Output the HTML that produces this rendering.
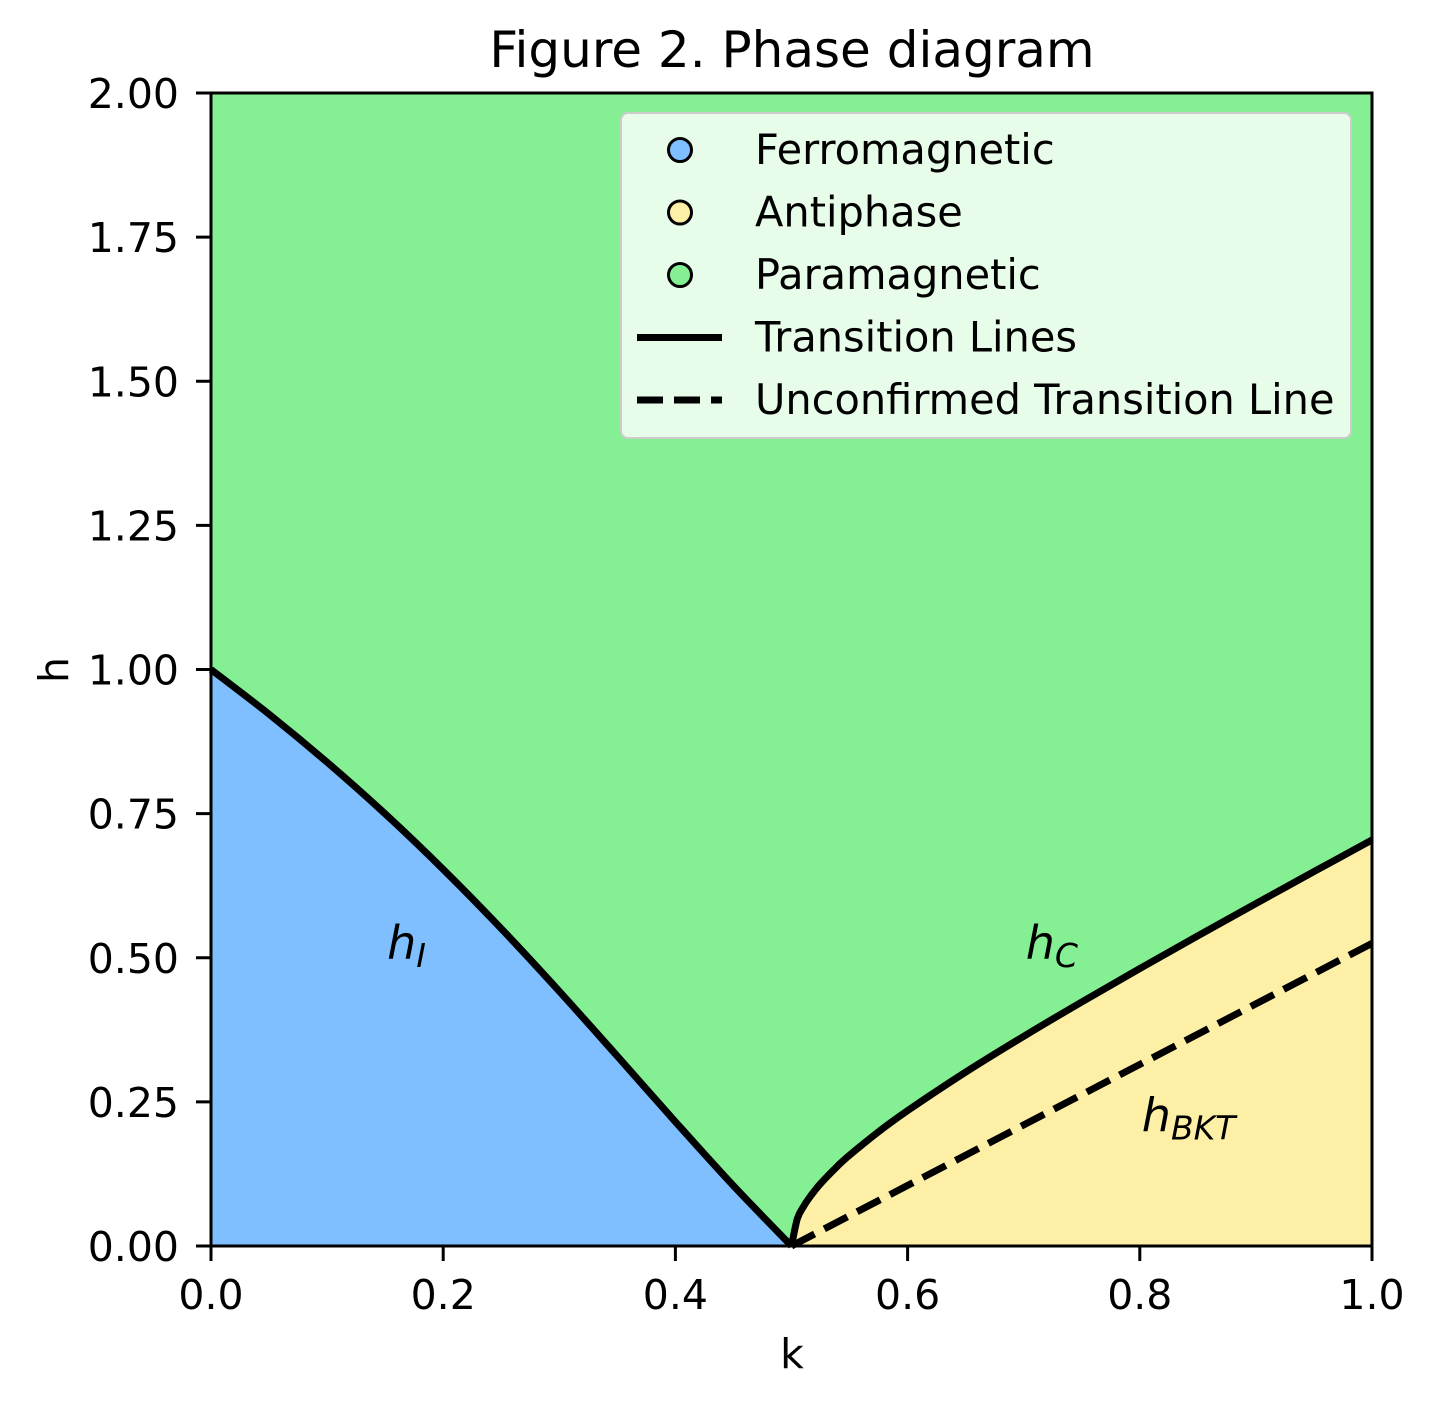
<!DOCTYPE html>
<html><head><meta charset="utf-8"><style>
body{margin:0;background:#fff;}
svg{display:block;font-family:"DejaVu Sans","Liberation Sans",sans-serif;}
</style></head><body>
<svg id="chart" width="1436" height="1407" viewBox="0 0 1436 1407">
<g id="plot"></g>
</svg>
<script>
const kHI=[0,0.05,0.1,0.15,0.2,0.25,0.3,0.35,0.4,0.45,0.5];
const hHI=[1,0.9225,0.8391,0.7496,0.6533,0.5505,0.4418,0.3292,0.2155,0.1045,0];
const kHC=[0.5,0.505,0.51,0.515,0.525,0.54,0.55,0.575,0.6,0.65,0.7,0.75,0.8,0.85,0.9,0.95,1.0];
const hHC=[0,0.0473,0.0672,0.0828,0.1082,0.1393,0.1575,0.1982,0.2348,0.3016,0.3637,0.4233,0.4812,0.5380,0.5940,0.6494,0.7043];
const kBKT=[0.5,1.0];
const hBKT=[0,0.525];
const xTicks=[0,0.2,0.4,0.6,0.8,1.0];
const xTickLabels=["0.0","0.2","0.4","0.6","0.8","1.0"];
const yTicks=[0,0.25,0.5,0.75,1.0,1.25,1.5,1.75,2.0];
const yTickLabels=["0.00","0.25","0.50","0.75","1.00","1.25","1.50","1.75","2.00"];

const X0=211,X1=1372,Y0=1246,Y1=93;
const sx=k=>X0+(X1-X0)*k;
const sy=h=>Y0-(Y0-Y1)*h/2;
const NS="http://www.w3.org/2000/svg";
const g=document.getElementById('plot');
function mk(tag,attrs,parent){const e=document.createElementNS(NS,tag);for(const a in attrs)e.setAttribute(a,attrs[a]);(parent||g).appendChild(e);return e;}
function smooth(ks,hs){
  const P=ks.map((k,i)=>[sx(k),sy(hs[i])]);
  let d='M'+P[0][0]+','+P[0][1];
  for(let i=0;i<P.length-1;i++){
    const p0=P[Math.max(i-1,0)],p1=P[i],p2=P[i+1],p3=P[Math.min(i+2,P.length-1)];
    const c1=[p1[0]+(p2[0]-p0[0])/6,p1[1]+(p2[1]-p0[1])/6];
    const c2=[p2[0]-(p3[0]-p1[0])/6,p2[1]-(p3[1]-p1[1])/6];
    d+=' C'+c1[0]+','+c1[1]+' '+c2[0]+','+c2[1]+' '+p2[0]+','+p2[1];
  }
  return d;
}

let e;
e=mk('rect',{x:X0,y:Y1,width:X1-X0,height:Y0-Y1,fill:'#85f093'});


e=mk('path',{d:smooth(kHI,hHI)+' L'+sx(0)+','+sy(0)+' Z',fill:'#80bfff'});


e=mk('path',{d:smooth(kHC,hHC)+' L'+sx(1)+','+sy(0)+' Z',fill:'#fdf0a6'});


e=mk('path',{d:smooth(kHI,hHI),fill:'none',stroke:'#000','stroke-width':7});


e=mk('path',{d:smooth(kHC,hHC),fill:'none',stroke:'#000','stroke-width':7});


e=mk('line',{x1:sx(kBKT[0]),y1:sy(hBKT[0]),x2:sx(kBKT[1]),y2:sy(hBKT[1]),stroke:'#000','stroke-width':7,'stroke-dasharray':'26,11'});


e=mk('rect',{x:X0,y:Y1,width:X1-X0,height:Y0-Y1,fill:'none',stroke:'#000','stroke-width':3});



xTicks.forEach((v,i)=>{
  mk('line',{x1:sx(v),x2:sx(v),y1:Y0,y2:Y0+15,stroke:'#000','stroke-width':3});
  const t=mk('text',{x:sx(v),y:Y0+63,'font-size':41,'text-anchor':'middle'});t.textContent=xTickLabels[i];
  
  
});
yTicks.forEach((v,i)=>{
  mk('line',{x1:X0-15,x2:X0,y1:sy(v),y2:sy(v),stroke:'#000','stroke-width':3});
  const t=mk('text',{x:X0-32,y:sy(v)+15,'font-size':41,'text-anchor':'end'});t.textContent=yTickLabels[i];
  
  
});
function lab(x,y,txt,name){const t=mk('text',{x:x,y:y,'font-size':41,'text-anchor':'middle'});t.textContent=txt;return t;}
lab(792,1368,'k','x-axis-title');
let yt=lab(0,0,'h','y-axis-title');yt.setAttribute('transform','translate(68,670) rotate(-90)');
let tt=lab(792,67,'Figure 2. Phase diagram','chart-title');tt.setAttribute('font-size',50);

function math(x,y,main,sub,name){const t=mk('text',{x:x,y:y,'font-size':46,'font-style':'italic'});
  
  const a=mk('tspan',{},t);a.textContent=main;const b=mk('tspan',{'font-size':33,dy:8},t);b.textContent=sub;}
math(sx(0.15)+2,sy(0.5)+1,'h','I','h-i-label');
math(sx(0.7)+2,sy(0.5)+1,'h','C','h-c-label');
math(sx(0.8)+2,sy(0.2)+1,'h','BKT','h-bkt-label');

const lg=mk('g',{});


mk('rect',{x:621,y:113,width:730,height:325,rx:7,fill:'#fff','fill-opacity':0.8,stroke:'#ccc','stroke-width':2},lg);
const legNames=['Ferromagnetic','Antiphase','Paramagnetic','Transition Lines','Unconfirmed Transition Line'];
const legColors=['#80bfff','#fdf0a6','#85f093'];
legNames.forEach((n,i)=>{
  const y=150+i*62.5;
  if(i<3){mk('circle',{cx:680,cy:y,r:11.5,fill:legColors[i],stroke:'#000','stroke-width':3},lg);}
  else{mk('line',{x1:637,x2:722,y1:y,y2:y,stroke:'#000','stroke-width':7,'stroke-dasharray':i==4?'26,11':'none'},lg);}
  const t=mk('text',{x:755,y:y+14,'font-size':41.5},lg);t.textContent=n;
  
  
});
</script>
</body></html>
